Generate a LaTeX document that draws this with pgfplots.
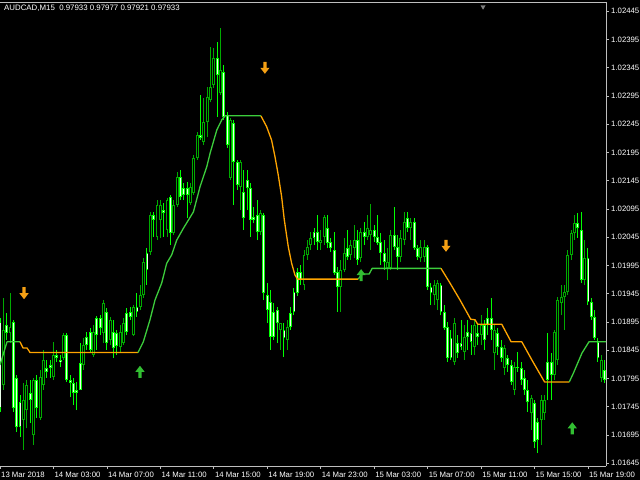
\documentclass[border=0pt]{standalone}
\usepackage{pgfplots}
\pgfplotsset{compat=1.18}
\usepackage{pgfplotstable}
\usepackage{fontspec}
\setmainfont{Liberation Sans}

\definecolor{linegreen}{RGB}{60,205,60}
\definecolor{lineorange}{RGB}{255,165,0}
\definecolor{arrowgreen}{RGB}{50,190,50}
\definecolor{arroworange}{RGB}{245,160,20}
\definecolor{frame}{RGB}{190,190,190}

\pgfdeclareplotmark{dnarrow}{%
  \pgfpathmoveto{\pgfqpoint{-1.6bp}{6bp}}%
  \pgfpathlineto{\pgfqpoint{1.6bp}{6bp}}%
  \pgfpathlineto{\pgfqpoint{1.6bp}{0bp}}%
  \pgfpathlineto{\pgfqpoint{4.6bp}{0bp}}%
  \pgfpathlineto{\pgfqpoint{0bp}{-6bp}}%
  \pgfpathlineto{\pgfqpoint{-4.6bp}{0bp}}%
  \pgfpathlineto{\pgfqpoint{-1.6bp}{0bp}}%
  \pgfpathclose\pgfusepathqfill}
\pgfdeclareplotmark{uparrow}{%
  \pgfpathmoveto{\pgfqpoint{-1.6bp}{-6bp}}%
  \pgfpathlineto{\pgfqpoint{1.6bp}{-6bp}}%
  \pgfpathlineto{\pgfqpoint{1.6bp}{0bp}}%
  \pgfpathlineto{\pgfqpoint{4.6bp}{0bp}}%
  \pgfpathlineto{\pgfqpoint{0bp}{6bp}}%
  \pgfpathlineto{\pgfqpoint{-4.6bp}{0bp}}%
  \pgfpathlineto{\pgfqpoint{-1.6bp}{0bp}}%
  \pgfpathclose\pgfusepathqfill}

\pgfplotsset{
  colormap={edgecol}{rgb255=(0,170,0) rgb255=(0,255,0)},
  colormap={corecol}{rgb255=(0,0,0) rgb255=(235,255,235)},
  ind/.style={line width=1.3bp, line join=round},
  candle/.style={mark=none, line cap=butt, point meta=explicit, point meta min=0, point meta max=1},
}

% M15 bars: index, high, low, open, close, kind (1 = light body, 0 = dark)
\pgfplotstableread{
i h l o c k
0 1.01902 1.01736 1.01895 1.01743 1
1 1.01938 1.01775 1.01784 1.01881 0
2 1.01911 1.01863 1.01890 1.01876 1
3 1.01946 1.01858 1.01876 1.01886 0
4 1.01899 1.01736 1.01895 1.01743 1
5 1.01801 1.01700 1.01796 1.01709 1
6 1.01766 1.01692 1.01753 1.01709 1
7 1.01787 1.01669 1.01722 1.01757 0
8 1.01792 1.01707 1.01739 1.01784 0
9 1.01792 1.01716 1.01769 1.01757 1
10 1.01796 1.01677 1.01695 1.01792 0
11 1.01801 1.01725 1.01792 1.01743 1
12 1.01810 1.01722 1.01725 1.01798 0
13 1.01846 1.01775 1.01784 1.01828 0
14 1.01828 1.01796 1.01814 1.01807 1
15 1.01828 1.01796 1.01819 1.01814 1
16 1.01860 1.01792 1.01798 1.01837 0
17 1.01846 1.01824 1.01837 1.01831 1
18 1.01837 1.01815 1.01828 1.01824 1
19 1.01876 1.01828 1.01831 1.01872 0
20 1.01876 1.01789 1.01872 1.01792 1
21 1.01801 1.01762 1.01792 1.01787 1
22 1.01796 1.01748 1.01787 1.01769 1
23 1.01789 1.01739 1.01775 1.01769 1
24 1.01858 1.01775 1.01823 1.01775 1
25 1.01867 1.01810 1.01819 1.01854 0
26 1.01877 1.01846 1.01869 1.01854 1
27 1.01884 1.01842 1.01877 1.01846 1
28 1.01890 1.01833 1.01837 1.01877 0
29 1.01906 1.01846 1.01902 1.01872 1
30 1.01907 1.01872 1.01902 1.01884 1
31 1.01934 1.01858 1.01876 1.01929 0
32 1.01920 1.01846 1.01913 1.01858 1
33 1.01904 1.01854 1.01863 1.01899 0
34 1.01899 1.01831 1.01877 1.01849 1
35 1.01881 1.01837 1.01876 1.01853 1
36 1.01890 1.01842 1.01851 1.01877 0
37 1.01902 1.01854 1.01858 1.01893 0
38 1.01920 1.01872 1.01911 1.01877 1
39 1.01922 1.01899 1.01913 1.01904 1
40 1.01925 1.01870 1.01872 1.01922 0
41 1.01946 1.01904 1.01922 1.01913 1
42 1.01961 1.01916 1.01922 1.01943 0
43 1.02008 1.01938 1.01943 1.02001 0
44 1.02026 1.01961 1.02017 1.01987 1
45 1.02090 1.02014 1.02019 1.02084 0
46 1.02090 1.02046 1.02084 1.02076 1
47 1.02111 1.02040 1.02046 1.02102 0
48 1.02111 1.02044 1.02076 1.02102 0
49 1.02106 1.02046 1.02093 1.02088 1
50 1.02115 1.02046 1.02058 1.02111 0
51 1.02120 1.02031 1.02116 1.02053 1
52 1.02111 1.02049 1.02053 1.02102 0
53 1.02161 1.02099 1.02102 1.02152 0
54 1.02164 1.02111 1.02152 1.02116 1
55 1.02141 1.02111 1.02132 1.02120 1
56 1.02143 1.02079 1.02132 1.02120 1
57 1.02141 1.02102 1.02106 1.02134 0
58 1.02191 1.02120 1.02123 1.02185 0
59 1.02231 1.02182 1.02185 1.02226 0
60 1.02297 1.02217 1.02226 1.02221 1
61 1.02292 1.02208 1.02214 1.02249 0
62 1.02311 1.02222 1.02249 1.02293 0
63 1.02382 1.02284 1.02288 1.02311 0
64 1.02380 1.02309 1.02315 1.02362 0
65 1.02391 1.02258 1.02362 1.02332 1
66 1.02415 1.02297 1.02300 1.02341 0
67 1.02350 1.02253 1.02338 1.02258 1
68 1.02267 1.02203 1.02261 1.02208 1
69 1.02256 1.02146 1.02150 1.02253 0
70 1.02253 1.02102 1.02247 1.02178 1
71 1.02182 1.02129 1.02178 1.02138 1
72 1.02182 1.02093 1.02134 1.02178 0
73 1.02164 1.02058 1.02125 1.02079 1
74 1.02164 1.02093 1.02146 1.02132 1
75 1.02141 1.02046 1.02132 1.02076 1
76 1.02099 1.02070 1.02081 1.02076 1
77 1.02111 1.02040 1.02084 1.02054 1
78 1.02093 1.02049 1.02054 1.02088 0
79 1.02088 1.01934 1.02084 1.01946 1
80 1.01964 1.01893 1.01943 1.01916 1
81 1.01952 1.01846 1.01930 1.01869 1
82 1.01929 1.01863 1.01913 1.01869 1
83 1.01922 1.01858 1.01916 1.01893 1
84 1.01893 1.01846 1.01881 1.01893 0
85 1.01893 1.01833 1.01881 1.01867 1
86 1.01899 1.01846 1.01863 1.01886 0
87 1.01922 1.01881 1.01911 1.01886 1
88 1.01955 1.01907 1.01948 1.01913 1
89 1.01991 1.01941 1.01984 1.01946 1
90 1.01996 1.01961 1.01984 1.01969 1
91 1.02023 1.01952 1.01961 1.02014 0
92 1.02040 1.02005 1.02014 1.02028 0
93 1.02054 1.02023 1.02031 1.02044 0
94 1.02061 1.02031 1.02054 1.02044 1
95 1.02084 1.02023 1.02054 1.02037 1
96 1.02058 1.02023 1.02035 1.02040 0
97 1.02084 1.02031 1.02046 1.02081 0
98 1.02084 1.02026 1.02061 1.02035 1
99 1.02044 1.02019 1.02037 1.02026 1
100 1.02054 1.01978 1.02023 1.01982 1
101 1.01992 1.01913 1.01984 1.01957 1
102 1.02005 1.01913 1.01957 1.01987 0
103 1.02044 1.01984 1.01987 1.02017 0
104 1.02058 1.02005 1.02026 1.02010 1
105 1.02040 1.02005 1.02014 1.02031 0
106 1.02067 1.02008 1.02026 1.02040 0
107 1.02058 1.01996 1.02040 1.02005 1
108 1.02061 1.02001 1.02008 1.02054 0
109 1.02072 1.02031 1.02054 1.02046 1
110 1.02084 1.02040 1.02046 1.02061 0
111 1.02104 1.02023 1.02049 1.02058 0
112 1.02067 1.02037 1.02058 1.02046 1
113 1.02084 1.02031 1.02046 1.02035 1
114 1.02053 1.01996 1.02037 1.02017 1
115 1.02040 1.01987 1.02017 1.02001 1
116 1.02026 1.01969 1.01991 1.02001 0
117 1.02058 1.01987 1.01991 1.02049 0
118 1.02099 1.02023 1.02049 1.02028 1
119 1.02049 1.01987 1.02028 1.02010 1
120 1.02058 1.02001 1.02010 1.02044 0
121 1.02090 1.02031 1.02040 1.02072 0
122 1.02090 1.02054 1.02079 1.02061 1
123 1.02079 1.02040 1.02061 1.02072 0
124 1.02079 1.02023 1.02072 1.02026 1
125 1.02031 1.02005 1.02026 1.02010 1
126 1.02040 1.02001 1.02008 1.02028 0
127 1.02040 1.02001 1.02010 1.02028 0
128 1.02031 1.01952 1.02028 1.01957 1
129 1.01964 1.01925 1.01957 1.01946 1
130 1.01969 1.01925 1.01943 1.01961 0
131 1.01969 1.01916 1.01934 1.01964 0
132 1.01964 1.01907 1.01961 1.01913 1
133 1.01925 1.01881 1.01913 1.01884 1
134 1.01895 1.01824 1.01886 1.01831 1
135 1.01881 1.01828 1.01867 1.01831 1
136 1.01902 1.01819 1.01824 1.01893 0
137 1.01872 1.01831 1.01858 1.01840 1
138 1.01899 1.01846 1.01858 1.01851 1
139 1.01890 1.01828 1.01842 1.01869 0
140 1.01899 1.01846 1.01877 1.01869 1
141 1.01890 1.01837 1.01876 1.01860 1
142 1.01899 1.01837 1.01851 1.01890 0
143 1.01890 1.01854 1.01876 1.01869 1
144 1.01907 1.01854 1.01872 1.01890 0
145 1.01899 1.01846 1.01890 1.01863 1
146 1.01920 1.01872 1.01902 1.01890 1
147 1.01938 1.01863 1.01902 1.01881 1
148 1.01890 1.01810 1.01840 1.01881 0
149 1.01884 1.01837 1.01876 1.01851 1
150 1.01863 1.01824 1.01851 1.01831 1
151 1.01854 1.01801 1.01814 1.01849 0
152 1.01837 1.01807 1.01831 1.01819 1
153 1.01828 1.01784 1.01819 1.01789 1
154 1.01824 1.01766 1.01775 1.01815 0
155 1.01842 1.01807 1.01815 1.01814 1
156 1.01824 1.01784 1.01814 1.01792 1
157 1.01810 1.01766 1.01796 1.01775 1
158 1.01792 1.01736 1.01775 1.01753 1
159 1.01766 1.01704 1.01734 1.01761 0
160 1.01757 1.01672 1.01752 1.01683 1
161 1.01725 1.01663 1.01718 1.01686 1
162 1.01766 1.01677 1.01722 1.01757 0
163 1.01766 1.01722 1.01734 1.01757 0
164 1.01876 1.01757 1.01824 1.01792 1
165 1.01840 1.01757 1.01824 1.01801 1
166 1.01881 1.01792 1.01801 1.01877 0
167 1.01939 1.01819 1.01828 1.01934 0
168 1.01961 1.01907 1.01929 1.01939 0
169 1.01961 1.01881 1.01939 1.01948 0
170 1.02023 1.01943 1.01948 1.02014 0
171 1.02058 1.02005 1.02014 1.02053 0
172 1.02084 1.02040 1.02053 1.02070 0
173 1.02088 1.02044 1.02070 1.02061 1
174 1.02090 1.01964 1.02058 1.01969 1
175 1.02040 1.01961 1.01969 1.02008 0
176 1.02026 1.01925 1.02008 1.01930 1
177 1.01938 1.01899 1.01930 1.01904 1
178 1.01916 1.01863 1.01904 1.01867 1
179 1.01867 1.01824 1.01860 1.01831 1
180 1.01837 1.01789 1.01796 1.01828 0
181 1.01828 1.01787 1.01810 1.01792 1
}\bars

\begin{document}
\begin{tikzpicture}
\useasboundingbox (0,0) rectangle (640bp,480bp);
\fill[black] (0,0) rectangle (640bp,480bp);
\begin{axis}[
  at={(0,14bp)}, anchor=south west,
  scale only axis, width=606bp, height=464bp,
  xmin=0, xmax=181.4, ymin=1.016402, ymax=1.024615,
  axis x line*=bottom, axis y line*=right,
  axis line style={draw=frame, line width=0.8bp},
  tick align=outside, major tick length=3bp,
  tick style={draw=frame, line width=0.8bp},
  xtick={0,16,...,176},
  xticklabels={13 Mar 2018, 14 Mar 03:00, 14 Mar 07:00, 14 Mar 11:00, 14 Mar 15:00, 14 Mar 19:00,
    14 Mar 23:00, 15 Mar 03:00, 15 Mar 07:00, 15 Mar 11:00, 15 Mar 15:00, 15 Mar 19:00},
  ytick={1.01645,1.01695,1.01745,1.01795,1.01845,1.01895,1.01945,1.01995,1.02045,
    1.02095,1.02145,1.02195,1.02245,1.02295,1.02345,1.02395,1.02445},
  yticklabels={1.01645,1.01695,1.01745,1.01795,1.01845,1.01895,1.01945,1.01995,1.02045,
    1.02095,1.02145,1.02195,1.02245,1.02295,1.02345,1.02395,1.02445},
  ticklabel style={font=\fontsize{7.8}{8}\selectfont, text=white, inner sep=0pt},
  xticklabel style={anchor=north west, xshift=1bp, yshift=-2.5bp},
  yticklabel style={anchor=west, xshift=2bp},
  /pgf/number format/assume math mode=true,
  extra description/.code={\draw[frame, line width=0.8bp] (rel axis cs:0,1) -- (rel axis cs:1,1);},
]
% wicks
\addplot[candle, colormap name=edgecol, line width=1bp,
  quiver={u=0, v={\thisrow{h}-\thisrow{l}}, colored}]
  table[x=i, y=l, meta=k] {\bars};
% bodies: outline, then a narrow core
\addplot[candle, colormap name=edgecol, line width=2.9bp,
  quiver={u=0, v={abs(\thisrow{o}-\thisrow{c})}, colored}]
  table[x=i, y expr={min(\thisrow{o},\thisrow{c})}, meta=k] {\bars};
\addplot[candle, colormap name=corecol, line width=0.9bp,
  quiver={u=0, v={max(abs(\thisrow{o}-\thisrow{c})-0.0000354,0)}, colored}]
  table[x=i, y expr={min(\thisrow{o},\thisrow{c})+0.0000177}, meta=k] {\bars};
% indicator line
\addplot[ind, linegreen] coordinates {(0,1.01819) (2.1,1.01860) (6.0,1.01860)};
\addplot[ind, lineorange] coordinates {(6.0,1.01860) (6.9,1.01849) (8.1,1.01849) (9.0,1.01841) (41.3,1.01841)};
\addplot[ind, linegreen] coordinates {(41.3,1.01841) (42.9,1.01860) (44.9,1.01899) (46.4,1.01934) (48.4,1.01964)
  (49.9,1.01999) (51.4,1.02014) (52.9,1.02040) (54.9,1.02061) (57.9,1.02090) (59.9,1.02135) (61.9,1.02170)
  (62.9,1.02194) (64.9,1.02235) (66.4,1.02253) (67.4,1.02260) (78.1,1.02260)};
\addplot[ind, lineorange] coordinates {(78.1,1.02260) (79.8,1.02241) (81.3,1.02217) (82.3,1.02188) (83.3,1.02155)
  (84.3,1.02117) (85.1,1.02076) (86.3,1.02028) (87.3,1.01999) (88.3,1.01978) (89.1,1.01971) (107.2,1.01971)};
\addplot[ind, linegreen] coordinates {(107.2,1.01971) (108.4,1.01980) (110.5,1.01980) (111.4,1.01990) (132.0,1.01990)};
\addplot[ind, lineorange] coordinates {(132.0,1.01990) (134.7,1.01964) (137.7,1.01934) (140.9,1.01900) (142.2,1.01899)
  (143.0,1.01891) (150.2,1.01891) (153.0,1.01860) (156.2,1.01860) (159.2,1.01828) (163.0,1.01789) (170.4,1.01789)};
\addplot[ind, linegreen] coordinates {(170.4,1.01789) (171.6,1.01804) (174.2,1.01840) (176.3,1.01860) (181.4,1.01860)};
% signal arrows
\addplot[only marks, mark=dnarrow, color=arroworange] coordinates {(7.2,1.01946) (79.3,1.02345) (133.5,1.02030)};
\addplot[only marks, mark=uparrow, color=arrowgreen] coordinates {(41.9,1.01807) (108.1,1.01978) (171.3,1.01707)};
% chart shift marker
\addplot[only marks, mark=triangle*, mark size=2.5bp, mark options={rotate=180}, color=gray] coordinates {(144.6,1.02453)};
\end{axis}
\node[anchor=west, text=white, font=\fontsize{7.9}{8}\selectfont, inner sep=0pt] at (4bp,472bp)
  {AUDCAD,M15\ \ 0.97933 0.97977 0.97921 0.97933};
\end{tikzpicture}
\end{document}
